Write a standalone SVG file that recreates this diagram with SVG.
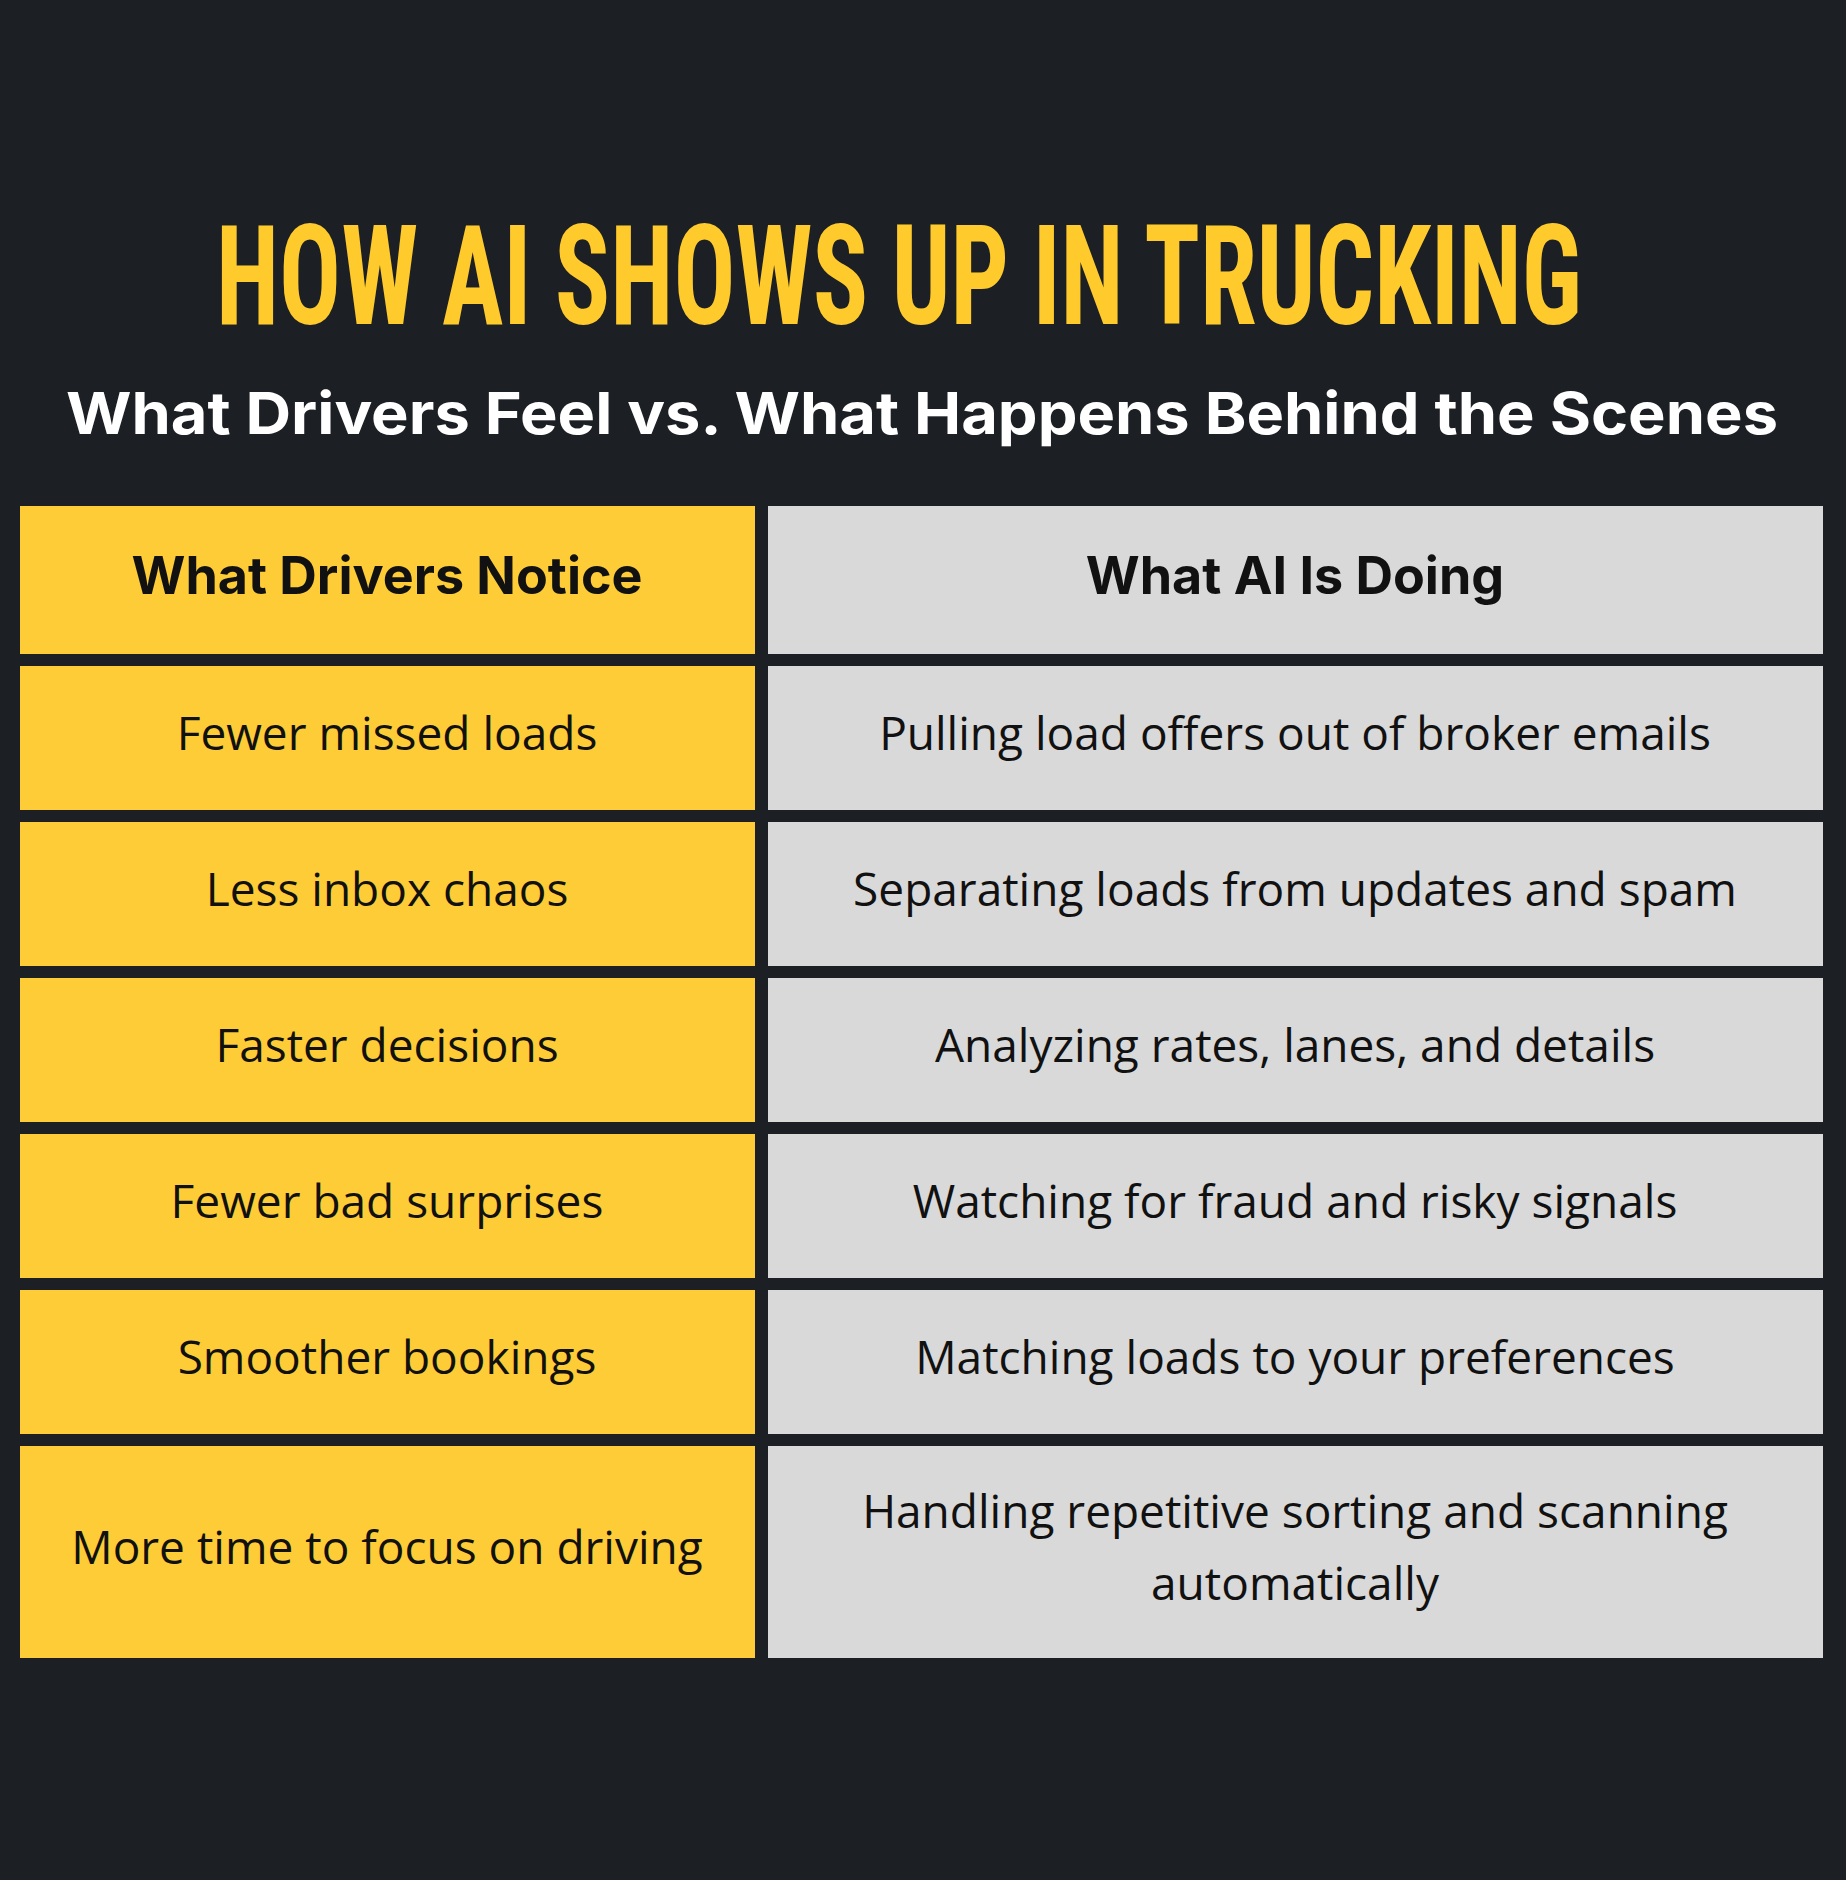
<svg xmlns="http://www.w3.org/2000/svg" width="1846" height="1880" viewBox="0 0 1846 1880">
<style>
.y{fill:#FECC36}.g{fill:#D9D9D9}
.t{font-family:"Open Sans",Lato,"Liberation Sans",sans-serif;font-size:46px;fill:#111;text-anchor:middle}
.h{font-weight:bold;font-family:Inter,"Liberation Sans",sans-serif;font-size:52px}
</style>
<rect width="1846" height="1880" fill="#1C1F24"/>
<text x="899" y="324" font-family="'Liberation Sans Narrow','Roboto Condensed','Liberation Sans',sans-serif" font-weight="bold" font-size="140" fill="#FFCA2C" text-anchor="middle" textLength="1366" lengthAdjust="spacingAndGlyphs">HOW AI SHOWS UP IN TRUCKING</text>
<text x="922" y="434" font-family="Inter,'Liberation Sans',sans-serif" font-weight="bold" font-size="58" fill="#fff" text-anchor="middle" textLength="1712" lengthAdjust="spacingAndGlyphs">What Drivers Feel vs. What Happens Behind the Scenes</text>
<g id="header"><rect class="y" x="20" y="506" width="735" height="148"/><rect class="g" x="768" y="506" width="1055" height="148"/>
<text class="t h" x="387" y="594">What Drivers Notice</text><text class="t h" x="1295" y="594">What AI Is Doing</text></g>
<g id="row1"><rect class="y" x="20" y="666" width="735" height="144"/><rect class="g" x="768" y="666" width="1055" height="144"/>
<text class="t" x="387" y="750">Fewer missed loads</text><text class="t" x="1295" y="750">Pulling load offers out of broker emails</text></g>
<g id="row2"><rect class="y" x="20" y="822" width="735" height="144"/><rect class="g" x="768" y="822" width="1055" height="144"/>
<text class="t" x="387" y="906">Less inbox chaos</text><text class="t" x="1295" y="906">Separating loads from updates and spam</text></g>
<g id="row3"><rect class="y" x="20" y="978" width="735" height="144"/><rect class="g" x="768" y="978" width="1055" height="144"/>
<text class="t" x="387" y="1062">Faster decisions</text><text class="t" x="1295" y="1062">Analyzing rates, lanes, and details</text></g>
<g id="row4"><rect class="y" x="20" y="1134" width="735" height="144"/><rect class="g" x="768" y="1134" width="1055" height="144"/>
<text class="t" x="387" y="1218">Fewer bad surprises</text><text class="t" x="1295" y="1218">Watching for fraud and risky signals</text></g>
<g id="row5"><rect class="y" x="20" y="1290" width="735" height="144"/><rect class="g" x="768" y="1290" width="1055" height="144"/>
<text class="t" x="387" y="1374">Smoother bookings</text><text class="t" x="1295" y="1374">Matching loads to your preferences</text></g>
<g id="row6"><rect class="y" x="20" y="1446" width="735" height="212"/><rect class="g" x="768" y="1446" width="1055" height="212"/>
<text class="t" x="387" y="1564">More time to focus on driving</text><text class="t" x="1295" y="1528">Handling repetitive sorting and scanning</text><text class="t" x="1295" y="1600">automatically</text></g>
</svg>
